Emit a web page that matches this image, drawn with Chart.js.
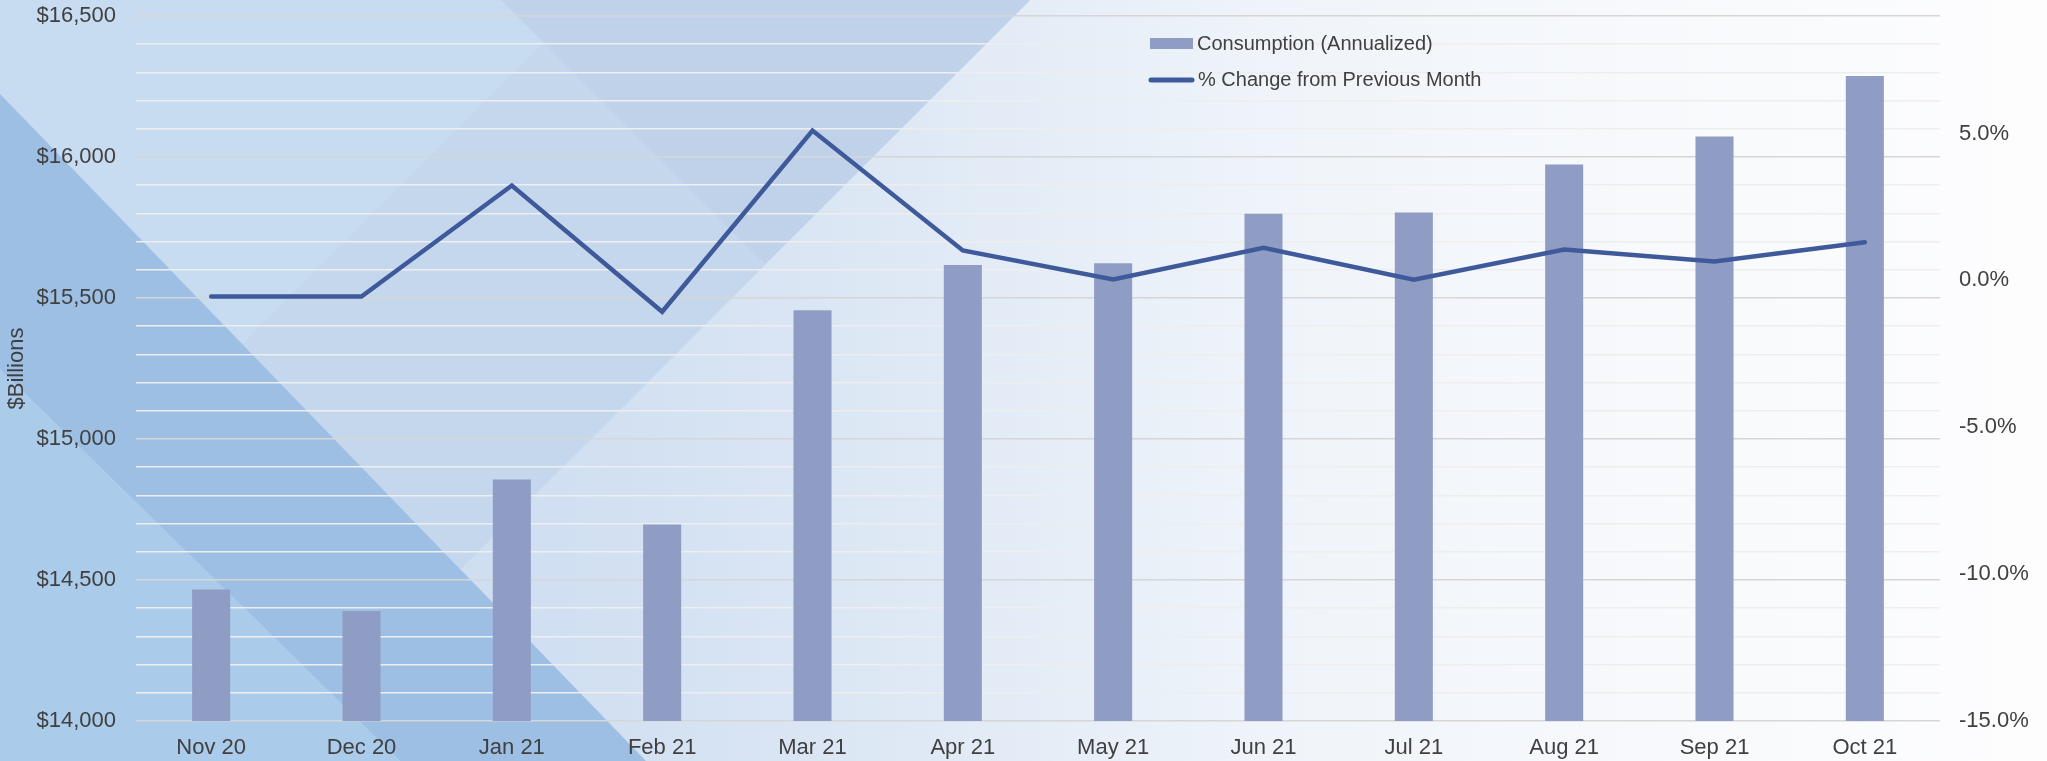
<!DOCTYPE html>
<html><head><meta charset="utf-8">
<script src="https://cdn.jsdelivr.net/npm/chart.js@4.4.1/dist/chart.umd.min.js"></script>
<style>html,body{margin:0;padding:0;background:#fff;overflow:hidden}canvas{display:block}</style>
</head><body>
<canvas id="c" width="2047" height="761"></canvas>
<script>
const categories = ['Nov 20','Dec 20','Jan 21','Feb 21','Mar 21','Apr 21','May 21','Jun 21','Jul 21','Aug 21','Sep 21','Oct 21'];
const consumption = [14466, 14390, 14856, 14697, 15457, 15617, 15623, 15799, 15803, 15973, 16073, 16287];
const pctChange = [-0.55, -0.55, 3.23, -1.07, 5.10, 1.02, 0.03, 1.11, 0.02, 1.05, 0.64, 1.30];
const seriesLabels = ['Consumption (Annualized)', '% Change from Previous Month'];
const leftAxisRange = [14000, 16500];
const rightAxisRange = [-15, 9];
const axisTitle = '$Billions';

const FONT = 'Liberation Sans, Arial, sans-serif';
const TXT = '#404040';
const BAR_COLOR = '#8f9cc3';
const LINE_COLOR = '#3f5a9b';

function poly(ctx, pts, fill) {
  ctx.beginPath();
  ctx.moveTo(pts[0][0], pts[0][1]);
  for (let i = 1; i < pts.length; i++) ctx.lineTo(pts[i][0], pts[i][1]);
  ctx.closePath();
  ctx.fillStyle = fill;
  ctx.fill();
}

const bgPlugin = {
  id: 'bg',
  beforeDraw(chart) {
    const ctx = chart.ctx, W = chart.width, H = chart.height;
    ctx.save();
    const g = ctx.createLinearGradient(0, 0, W, 0);
    g.addColorStop(0, '#c3d8ef');
    g.addColorStop(0.3, '#d2e0f2');
    g.addColorStop(0.48, '#e2ebf6');
    g.addColorStop(0.62, '#eff4fa');
    g.addColorStop(0.8, '#f7f9fc');
    g.addColorStop(1, '#fdfdfe');
    ctx.fillStyle = g;
    ctx.fillRect(0, 0, W, H);
    poly(ctx, [[0,0],[586,0],[242,344],[0,94]], '#c7dbf1');
    poly(ctx, [[586,0],[1030,0],[461,569],[242,344]], '#c5d7ed');
    poly(ctx, [[501,0],[1030,0],[765,264]], '#c0d2ea');
    poly(ctx, [[0,94],[646,761],[400,761],[0,369]], '#9dbfe4');
    poly(ctx, [[0,369],[400,761],[0,761]], '#aacbe9');
    ctx.restore();
  }
};

const legendPlugin = {
  id: 'customLegend',
  afterDraw(chart) {
    const ctx = chart.ctx;
    ctx.save();
    ctx.fillStyle = BAR_COLOR;
    ctx.fillRect(1150, 38, 43, 11);
    ctx.strokeStyle = LINE_COLOR;
    ctx.lineWidth = 5;
    ctx.lineCap = 'round';
    ctx.beginPath();
    ctx.moveTo(1151, 80);
    ctx.lineTo(1192, 80);
    ctx.stroke();
    ctx.fillStyle = TXT;
    ctx.font = '20px ' + FONT;
    ctx.textBaseline = 'middle';
    ctx.textAlign = 'left';
    ctx.fillText(seriesLabels[0], 1197, 44);
    ctx.fillText(seriesLabels[1], 1198, 80);
    ctx.restore();
  }
};

function fixVPad(s) { s.paddingTop = 8; s.paddingBottom = 8; }

new Chart(document.getElementById('c'), {
  type: 'bar',
  data: {
    labels: categories,
    datasets: [
      {
        type: 'bar', label: seriesLabels[0], data: consumption,
        backgroundColor: BAR_COLOR, yAxisID: 'y', order: 2,
        barPercentage: 0.253, categoryPercentage: 1
      },
      {
        type: 'line', label: seriesLabels[1], data: pctChange,
        borderColor: LINE_COLOR, borderWidth: 4.5, pointRadius: 0,
        borderCapStyle: 'round', borderJoinStyle: 'miter', tension: 0,
        yAxisID: 'y1', order: 1
      }
    ]
  },
  options: {
    responsive: false,
    animation: false,
    devicePixelRatio: 1,
    layout: { padding: { top: 16, left: 0, right: 0, bottom: 0 } },
    plugins: { legend: { display: false }, tooltip: { enabled: false } },
    scales: {
      x: {
        grid: { display: false, drawTicks: false },
        border: { display: false },
        ticks: { font: { family: FONT, size: 22 }, color: TXT, padding: 14, maxRotation: 0, autoSkip: false },
        afterFit(s) { s.height = 40; s.paddingLeft = 0; s.paddingRight = 0; }
      },
      y: {
        position: 'left',
        min: leftAxisRange[0], max: leftAxisRange[1],
        ticks: {
          stepSize: 100, autoSkip: false,
          callback: v => { const r = Math.round(v); return r % 500 === 0 ? '$' + r.toLocaleString('en-US') : ''; },
          font: { family: FONT, size: 22 }, color: TXT, padding: 20
        },
        grid: {
          color: c => (c.tick && Math.round(c.tick.value) % 500 === 0) ? '#d6d6d6' : '#eeeeee',
          lineWidth: 1.5, drawTicks: false
        },
        border: { display: false },
        title: { display: true, text: axisTitle, font: { family: FONT, size: 22 }, color: TXT, padding: { top: 4, bottom: 0 } },
        afterFit(s) { s.width = 136; fixVPad(s); }
      },
      y1: {
        position: 'right',
        min: rightAxisRange[0], max: rightAxisRange[1],
        afterBuildTicks(s) { s.ticks = s.ticks.filter(t => Math.round(t.value) % 5 === 0); },
        ticks: {
          stepSize: 5, includeBounds: false,
          callback: v => Number(v).toFixed(1) + '%',
          font: { family: FONT, size: 22 }, color: TXT, padding: 19
        },
        grid: { display: false, drawTicks: false },
        border: { display: false },
        afterFit(s) { s.width = 107; fixVPad(s); }
      }
    }
  },
  plugins: [bgPlugin, legendPlugin]
});
</script>
</body></html>
